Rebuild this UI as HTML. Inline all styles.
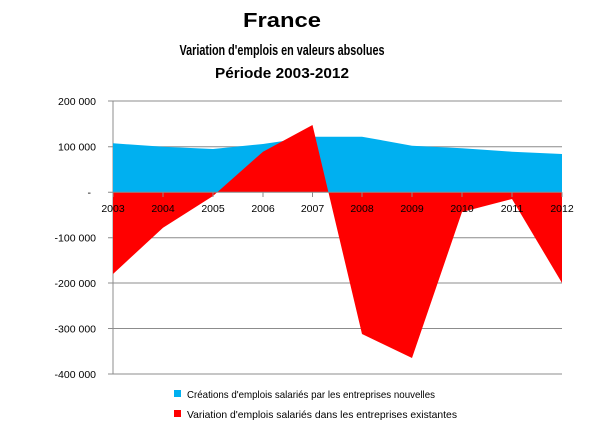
<!DOCTYPE html>
<html><head><meta charset="utf-8"><style>
body{margin:0;background:#fff;}
svg{display:block;font-family:"Liberation Sans",Arial,sans-serif;}
</style></head><body>
<svg width="614" height="440" viewBox="0 0 614 440">
<rect width="614" height="440" fill="#fff"/>
<text x="282" y="27" font-size="20" font-weight="bold" text-anchor="middle" textLength="78" lengthAdjust="spacingAndGlyphs">France</text>
<text x="282" y="55" font-size="14.5" font-weight="bold" text-anchor="middle" textLength="205" lengthAdjust="spacingAndGlyphs">Variation d'emplois en valeurs absolues</text>
<text x="282" y="78" font-size="14.5" font-weight="bold" text-anchor="middle" textLength="134" lengthAdjust="spacingAndGlyphs">Période 2003-2012</text>
<g stroke="#8c8c8c" stroke-width="1">
<line x1="108" y1="101" x2="562" y2="101"/>
<line x1="108" y1="146.7" x2="562" y2="146.7"/>
<line x1="108" y1="237.7" x2="562" y2="237.7"/>
<line x1="108" y1="283" x2="562" y2="283"/>
<line x1="108" y1="328.5" x2="562" y2="328.5"/>
<line x1="108" y1="374" x2="562" y2="374"/>
<line x1="113" y1="101" x2="113" y2="374"/>
</g>
<polygon fill="#00b0f0" points="113,192.3 113,143.3 163,146.7 213,149 263,144 312.5,136.7 362,136.7 412,145.7 462,148.3 512,151.7 562,154 562,192.3"/>
<polygon fill="#ff0000" points="113,192.3 113,274 163,227.7 213,196 263,151.7 312.5,125 362,334 412,358 462,212 512,199 562,283 562,192.3"/>
<g stroke="#8c8c8c" stroke-width="1">
<line x1="108" y1="192.3" x2="562" y2="192.3"/>
<line x1="113" y1="192.3" x2="113" y2="197"/><line x1="163" y1="192.3" x2="163" y2="197"/><line x1="213" y1="192.3" x2="213" y2="197"/><line x1="263" y1="192.3" x2="263" y2="197"/><line x1="312.5" y1="192.3" x2="312.5" y2="197"/><line x1="362" y1="192.3" x2="362" y2="197"/><line x1="412" y1="192.3" x2="412" y2="197"/><line x1="462" y1="192.3" x2="462" y2="197"/><line x1="512" y1="192.3" x2="512" y2="197"/><line x1="562" y1="192.3" x2="562" y2="197"/>
</g>
<g font-size="10.5" text-anchor="end" fill="#000">
<text x="96" y="105">200 000</text>
<text x="96" y="150.5">100 000</text>
<text x="91" y="196">-</text>
<text x="96" y="241.5">-100 000</text>
<text x="96" y="287">-200 000</text>
<text x="96" y="332.5">-300 000</text>
<text x="96" y="378">-400 000</text>
</g>
<g font-size="10.5" text-anchor="middle" fill="#000">
<text x="113" y="212">2003</text><text x="163" y="212">2004</text><text x="213" y="212">2005</text><text x="263" y="212">2006</text><text x="312.5" y="212">2007</text><text x="362" y="212">2008</text><text x="412" y="212">2009</text><text x="462" y="212">2010</text><text x="512" y="212">2011</text><text x="562" y="212">2012</text>
</g>
<rect x="174" y="390" width="7" height="7" fill="#00b0f0"/>
<text x="187" y="398" font-size="10.5" textLength="248" lengthAdjust="spacingAndGlyphs">Créations d'emplois salariés par les entreprises nouvelles</text>
<rect x="174" y="410" width="7" height="7" fill="#ff0000"/>
<text x="187" y="418" font-size="10.5" textLength="270" lengthAdjust="spacingAndGlyphs">Variation d'emplois salariés dans les entreprises existantes</text>
</svg>
</body></html>
